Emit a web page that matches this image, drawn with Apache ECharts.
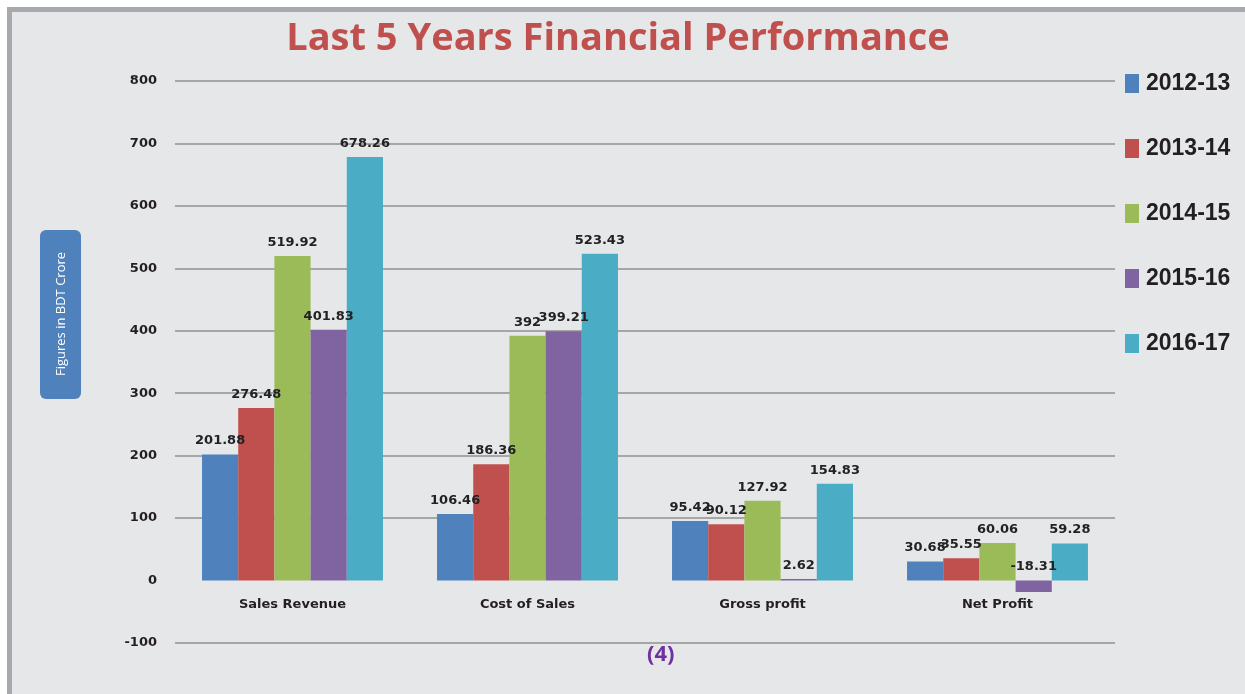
<!DOCTYPE html>
<html>
<head>
<meta charset="utf-8">
<script src="https://cdn.jsdelivr.net/npm/echarts@6/dist/echarts.min.js"></script>
<style>
html,body{margin:0;padding:0;background:#ffffff;width:1245px;height:694px;overflow:hidden;}
#frame{position:absolute;left:7px;top:7px;width:1238px;height:687px;box-sizing:border-box;border-left:5px solid #a8a9ad;border-top:5px solid #a8a9ad;background:#e6e7e9;}
#chart{position:absolute;left:0;top:0;width:1245px;height:694px;}
</style>
</head>
<body>
<div id="frame"></div>
<div id="chart"></div>
<script>
const categories = ['Sales Revenue', 'Cost of Sales', 'Gross profit', 'Net Profit'];
const seriesNames = ['2012-13', '2013-14', '2014-15', '2015-16', '2016-17'];
const v2012_13 = [201.88, 106.46, 95.42, 30.68];
const v2013_14 = [276.48, 186.36, 90.12, 35.55];
const v2014_15 = [519.92, 392, 127.92, 60.06];
const v2015_16 = [401.83, 399.21, 2.62, -18.31];
const v2016_17 = [678.26, 523.43, 154.83, 59.28];
const colors = ['#4f81bd', '#c0504d', '#9bbb59', '#8064a2', '#4bacc6'];
const allValues = [v2012_13, v2013_14, v2014_15, v2015_16, v2016_17];

const chart = echarts.init(document.getElementById('chart'), null, {renderer: 'canvas'});

const series = allValues.map((vals, i) => ({
  name: seriesNames[i],
  type: 'bar',
  data: vals,
  barGap: '0%',
  barCategoryGap: '23%',
  itemStyle: {color: colors[i]},
  label: {
    show: true,
    position: 'top',
    distance: 7,
    color: '#222222',
    fontFamily: 'DejaVu Sans',
    fontWeight: 'bold',
    fontSize: 13,
    formatter: p => String(p.value)
  }
}));

// gridline colours by tick from -100 .. 800; the zero line is not drawn in the reference
const gridColors = ['#a6a6a6', 'rgba(0,0,0,0)', '#a6a6a6', '#a6a6a6', '#a6a6a6', '#a6a6a6', '#a6a6a6', '#a6a6a6', '#a6a6a6', '#a6a6a6'];

chart.setOption({
  backgroundColor: 'transparent',
  animation: false,
  color: colors,
  title: {
    text: 'Last 5 Years Financial Performance',
    left: 613,
    textAlign: 'center',
    top: 15,
    textStyle: {
      color: '#c0504d',
      fontFamily: 'Open Sans',
      fontWeight: 'bold',
      fontSize: 38
    }
  },
  legend: {
    orient: 'vertical',
    left: 1125,
    top: 72,
    padding: 0,
    itemGap: 42,
    itemWidth: 14,
    itemHeight: 19,
    icon: 'rect',
    textStyle: {
      color: '#231f20',
      fontFamily: '"Liberation Sans", Arial, sans-serif',
      fontWeight: 'bold',
      fontSize: 23,
      padding: [0, 0, 0, 2]
    },
    data: seriesNames
  },
  grid: {
    left: 175,
    right: 130,
    top: 81,
    bottom: 51,
    containLabel: false
  },
  xAxis: {
    type: 'category',
    data: categories,
    axisLine: {show: false, onZero: false},
    axisTick: {show: false},
    axisLabel: {
      margin: -45,
      color: '#231f20',
      fontFamily: 'DejaVu Sans',
      fontWeight: 'bold',
      fontSize: 13
    }
  },
  yAxis: {
    type: 'value',
    min: -100,
    max: 800,
    interval: 100,
    axisLine: {show: false},
    axisTick: {show: false},
    axisLabel: {
      margin: 18,
      color: '#231f20',
      fontFamily: 'DejaVu Sans',
      fontWeight: 'bold',
      fontSize: 13
    },
    splitLine: {
      show: true,
      lineStyle: {color: gridColors, width: 2}
    }
  },
  graphic: [
    {
      type: 'rect',
      left: 40,
      top: 230,
      shape: {width: 41, height: 169, r: 6},
      style: {fill: '#4f81bd'},
      z: 10
    },
    {
      type: 'text',
      x: 61,
      y: 314,
      rotation: Math.PI / 2,
      style: {
        text: 'Figures in BDT Crore',
        fill: '#ffffff',
        font: '13px "Liberation Sans Narrow", "Open Sans", sans-serif',
        textAlign: 'center',
        textVerticalAlign: 'middle'
      },
      z: 11
    },
    {
      type: 'text',
      left: 647,
      top: 644,
      style: {
        text: '(4)',
        fill: '#7030a0',
        font: 'bold 22px "Open Sans", sans-serif'
      }
    }
  ],
  series: series
});
</script>
</body>
</html>
